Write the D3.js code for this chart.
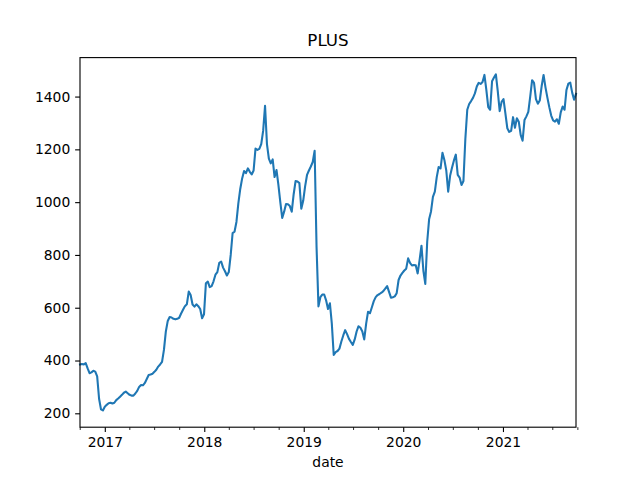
<!DOCTYPE html>
<html>
<head>
<meta charset="utf-8">
<script src="https://cdn.jsdelivr.net/npm/d3@7"></script>
<style>
    body { margin: 0; background: #fff; }
    text { font-family: "DejaVu Sans", sans-serif; fill: #000; }
</style>
</head>
<body>
<svg id="chart" width="640" height="480"></svg>
<script>
"use strict";

var TITLE = "PLUS",
    X_LABEL = "date",
    START = Date.UTC(2016, 9, 2),
    END = Date.UTC(2021, 8, 27),
    Y_TICKS = [200, 400, 600, 800, 1000, 1200, 1400];

// weekly closes
var values = [
    385, 387, 385, 390, 370, 352, 355, 361, 358, 340,
    255, 215, 211, 225, 232, 238, 240, 237, 240, 250,
    256, 263, 270, 278, 282, 276, 270, 267, 267, 275,
    285, 300, 307, 306, 315, 330, 345, 347, 350, 357,
    365, 377, 385, 395, 440, 510, 550, 565, 563, 558,
    556, 558, 562, 578, 592, 606, 613, 661, 648, 612,
    604, 613, 606, 595, 560, 575, 693, 699, 678, 682,
    700, 725, 735, 770, 775, 752, 738, 722, 735, 800,
    883, 888, 925, 995, 1050, 1090, 1118, 1110, 1128, 1115,
    1105, 1120, 1203, 1198, 1202, 1220, 1270, 1365, 1220, 1165,
    1147, 1162, 1095, 1122, 1065, 1000, 940, 964, 993, 992,
    985, 964, 1030, 1080, 1078, 1072, 975, 1005, 1060, 1103,
    1120, 1135, 1152, 1195, 830, 605, 640, 650, 650, 628,
    595, 617, 540, 421, 432, 436, 445, 472, 495, 515,
    500, 482, 470, 459, 480, 510, 530, 524, 510, 480,
    540, 585, 579, 602, 625, 640, 648, 652, 657, 663,
    672, 682, 660, 638, 640, 643, 655, 705, 722, 732,
    741, 748, 787, 770, 760, 762, 761, 730, 780, 835,
    740, 690, 850, 935, 965, 1020, 1040, 1095, 1133, 1128,
    1187, 1160, 1120, 1040, 1100, 1130, 1158, 1180, 1103, 1093,
    1065, 1080, 1240, 1350, 1372, 1383, 1395, 1412, 1438, 1452,
    1448, 1455, 1482, 1425, 1360, 1350, 1458, 1472, 1484, 1420,
    1345, 1380, 1390, 1335, 1280, 1266, 1270, 1322, 1282, 1318,
    1305, 1255, 1233, 1311, 1325, 1342, 1400, 1462, 1452, 1390,
    1373, 1385, 1440, 1482, 1435, 1396, 1360, 1328, 1310, 1305,
    1314, 1297, 1340, 1362, 1350, 1425, 1449, 1453, 1415, 1388,
    1410
];

var dates = d3.utcWeek.range(START, END);

var data = dates.map(function (d, i) {
    return { date: d, value: values[i] };
});

var W = 640, H = 480,
    margin = { top: 57.6, right: 64, bottom: 52.8, left: 80 },
    PT = 100 / 72;

var svg = d3.select("#chart"),
    iw = W - margin.left - margin.right,
    ih = H - margin.top - margin.bottom;

// matplotlib-style 5% padding on y
var yMin = d3.min(values), yMax = d3.max(values),
    pad = (yMax - yMin) * 0.05;

var x = d3.scaleUtc()
    .domain(d3.extent(dates))
    .range([0, iw]);

var y = d3.scaleLinear()
    .domain([yMin - pad, yMax + pad])
    .range([ih, 0]);

var g = svg.append("g")
    .attr("transform", "translate(" + margin.left + "," + margin.top + ")");

var line = d3.line()
    .x(function (d) { return x(d.date); })
    .y(function (d) { return y(d.value); });

g.append("path")
    .datum(data)
    .attr("fill", "none")
    .attr("stroke", "#1f77b4")
    .attr("stroke-width", 1.5 * PT)
    .attr("stroke-linejoin", "round")
    .attr("stroke-linecap", "square")
    .attr("d", line);

// x axis: years major, quarters minor
var majorTicks = d3.utcYear.range(Date.UTC(2017, 0, 1), Date.UTC(2022, 0, 1))
        .filter(function (d) { return d <= x.domain()[1]; }),
    minorTicks = d3.utcMonth.every(3).range(Date.UTC(2016, 9, 1), Date.UTC(2021, 9, 2))
        .filter(function (d) { return d.getUTCMonth() !== 0; });

var xAxis = g.append("g")
    .attr("transform", "translate(0," + ih + ")")
    .call(d3.axisBottom(x)
        .tickValues(majorTicks)
        .tickFormat(d3.utcFormat("%Y"))
        .tickSize(3.5 * PT)
        .tickPadding(3.5 * PT));

var xMinor = g.append("g")
    .attr("transform", "translate(0," + ih + ")")
    .call(d3.axisBottom(x)
        .tickValues(minorTicks)
        .tickFormat("")
        .tickSize(2 * PT));
xMinor.select(".domain").remove();
xMinor.selectAll("line").attr("stroke-width", 0.6 * PT);

var yAxis = g.append("g")
    .call(d3.axisLeft(y)
        .tickValues(Y_TICKS)
        .tickFormat(d3.format("d"))
        .tickSize(3.5 * PT)
        .tickPadding(3.5 * PT));

[xAxis, yAxis].forEach(function (ax) {
    ax.select(".domain").remove();
    ax.selectAll("line").attr("stroke-width", 0.8 * PT);
    ax.selectAll("text")
        .attr("font-family", "DejaVu Sans")
        .attr("font-size", 10 * PT);
});

// spines
g.append("rect")
    .attr("width", iw)
    .attr("height", ih)
    .attr("fill", "none")
    .attr("stroke", "#000")
    .attr("stroke-width", 0.8 * PT);

svg.append("text")
    .attr("x", margin.left + iw / 2)
    .attr("y", margin.top - 6 * PT - 3)
    .attr("text-anchor", "middle")
    .attr("font-size", 12 * PT)
    .text(TITLE);

svg.append("text")
    .attr("x", margin.left + iw / 2)
    .attr("y", 467)
    .attr("text-anchor", "middle")
    .attr("font-size", 10 * PT)
    .text(X_LABEL);
</script>
</body>
</html>
